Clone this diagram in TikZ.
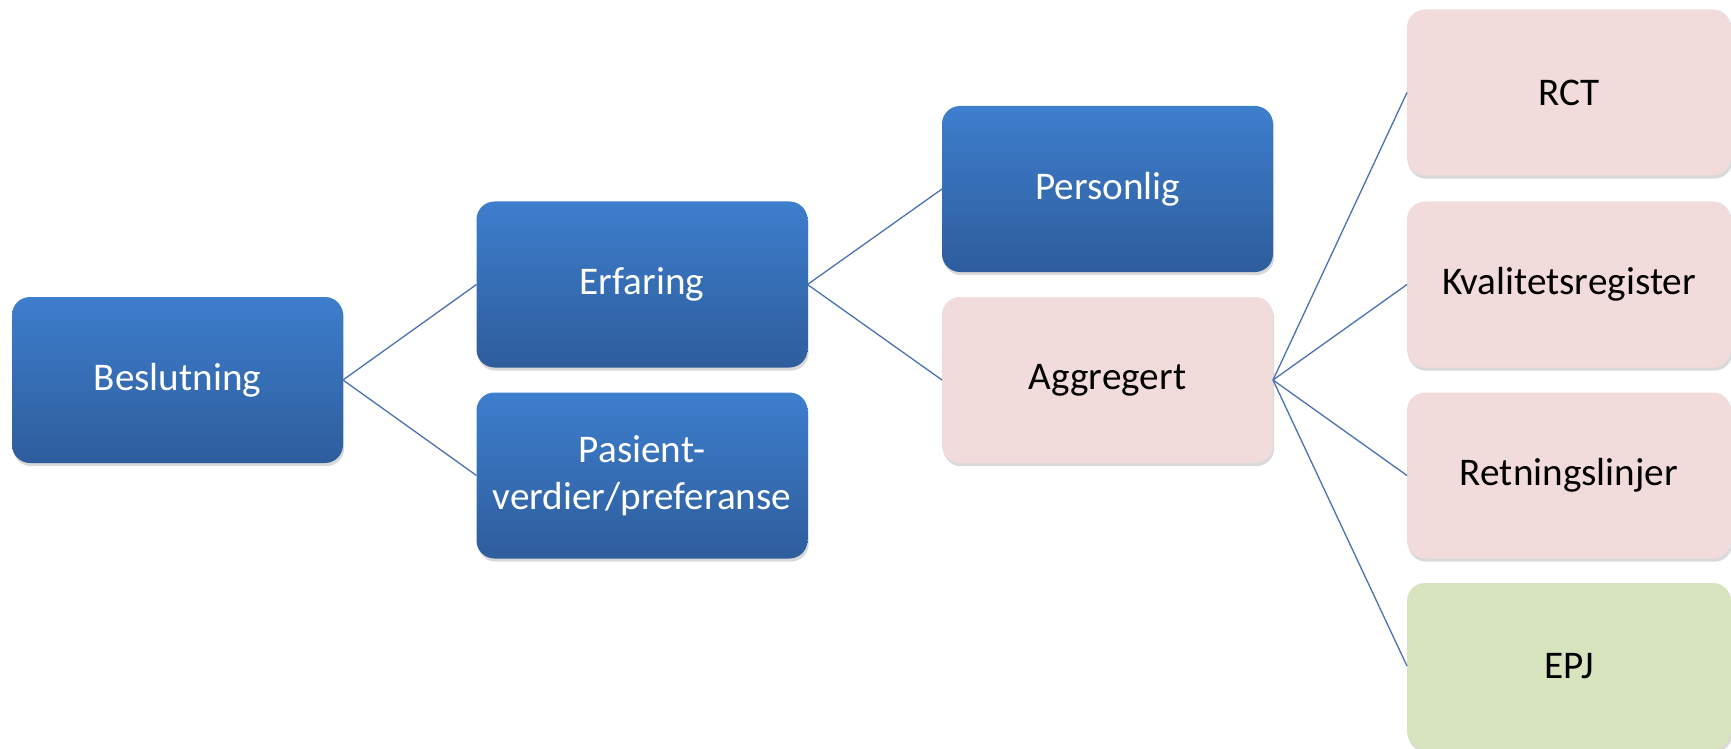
\documentclass[tikz,border=0pt]{standalone}
\usepackage{fontspec}
\setmainfont{Carlito}
\usetikzlibrary{shadows}
\definecolor{bluetop}{HTML}{3D7ECD}
\definecolor{bluebot}{HTML}{2E5D9C}
\definecolor{pinkfill}{HTML}{F2DCDB}
\definecolor{greenfill}{HTML}{D7E4BD}
\definecolor{linkcol}{HTML}{4A72B0}
\tikzset{
  box/.style={rectangle, rounded corners=9pt, inner sep=0pt, outer sep=0pt,
    minimum width=165.5pt, minimum height=83pt, align=center,
    font=\fontsize{19.6pt}{23.5pt}\selectfont,
    drop shadow={shadow xshift=0.6pt, shadow yshift=-1.6pt, opacity=0.3, fill=black!50}},
  bluebox/.style={box, top color=bluetop, bottom color=bluebot, text=white},
  pinkbox/.style={box, fill=pinkfill, text=black, minimum width=162pt},
  greenbox/.style={box, fill=greenfill, text=black, minimum width=162pt},
  link/.style={draw=linkcol, line width=0.65pt}
}
\begin{document}
\begin{tikzpicture}[x=0.5pt,y=-0.5pt]
  \useasboundingbox (0,0) rectangle (1731,749);
  \clip (0,0) rectangle (1731,749);
  % first level
  \node[bluebox] (besl) at (177.5,380) {Beslutning};
  % second level
  \node[bluebox] (erf) at (642,284.5) {Erfaring};
  \node[bluebox] (pas) at (642,475.5) {Pasient-\\verdier/preferanse};
  % third level
  \node[bluebox] (pers) at (1107.5,189) {Personlig};
  \node[pinkbox, minimum width=165.5pt] (aggr) at (1107.5,380) {Aggregert};
  % fourth level
  \node[pinkbox] (rct) at (1569,92.5) {RCT};
  \node[pinkbox] (kval) at (1569,284.5) {Kvalitetsregister};
  \node[pinkbox] (retn) at (1569,475.5) {Retningslinjer};
  \node[greenbox] (epj) at (1569,666) {EPJ};
  % connectors
  \draw[link] (besl.east) -- (erf.west);
  \draw[link] (besl.east) -- (pas.west);
  \draw[link] (erf.east) -- (pers.west);
  \draw[link] (erf.east) -- (aggr.west);
  \draw[link] (aggr.east) -- (rct.west);
  \draw[link] (aggr.east) -- (kval.west);
  \draw[link] (aggr.east) -- (retn.west);
  \draw[link] (aggr.east) -- (epj.west);
\end{tikzpicture}
\end{document}
